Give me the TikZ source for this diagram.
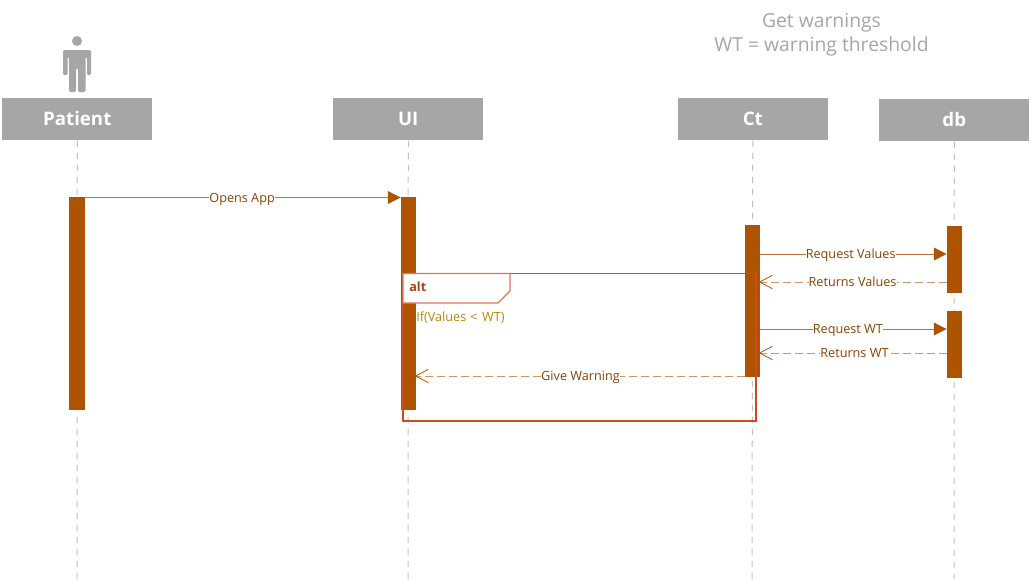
\documentclass[tikz,border=0pt]{standalone}
\usepackage{fontspec}
\setmainfont{Open Sans}
\usetikzlibrary{arrows.meta,calc}
\definecolor{hdr}{HTML}{A6A6A6}
\definecolor{bar}{HTML}{AE5300}
\definecolor{lbl}{HTML}{8A4200}
\definecolor{frm}{HTML}{D04A20}
\definecolor{cond}{HTML}{B8860B}
\tikzset{
  x=0.75pt,y=-0.75pt,
  header/.style={fill=hdr,text=white,font=\fontsize{14pt}{16pt}\selectfont\bfseries,minimum width=112.5pt,minimum height=31.5pt,inner sep=0pt,anchor=north west,text height=11pt,text depth=1.6pt},
  lifeline/.style={draw=hdr!70,dashed,line width=0.75pt,dash pattern=on 5pt off 4pt},
  activation/.style={fill=bar,minimum width=11.5pt,inner sep=0pt,anchor=north},
  msgline/.style={draw=bar!80,line width=0.75pt,-{Triangle[length=9.5pt,width=9.5pt,fill=bar,color=bar]}},
  retline/.style={draw=bar!60,line width=0.75pt,dash pattern=on 5.5pt off 3.5pt,shorten >=-1.2pt,-{Straight Barb[length=9.5pt,width=10pt,color=bar,line width=0.6pt]}},
  msglabel/.style={fill=white,text=lbl,font=\fontsize{9.5pt}{11pt}\selectfont,inner xsep=0pt,inner ysep=0pt,text height=8.6pt,text depth=1.4pt},
  frameline/.style={draw=frm,line width=0.85pt},
  note/.style={text=hdr,font=\fontsize{14.5pt}{18pt}\selectfont,align=center}
}
\begin{document}
\begin{tikzpicture}
\useasboundingbox (0,0) rectangle (1031,579);
% headers
\node[header] (patient) at (2,98) {Patient};
\node[header] (ui) at (333,98) {UI};
\node[header] (ct) at (677.5,98) {Ct};
\node[header] (db) at (879,99) {db};
% lifeline ends
\coordinate (patientEnd) at (77,579);
\coordinate (uiEnd) at (408,579);
\coordinate (ctEnd) at (752,579);
\coordinate (dbEnd) at (954,579);
\draw[lifeline] (patient.south) -- (patientEnd);
\draw[lifeline] (ui.south) -- (uiEnd);
\draw[lifeline] (ct.south) -- (ctEnd);
\draw[lifeline] (db.south) -- (dbEnd);
% actor icon
\fill[hdr] (77,41) circle (5);
\fill[hdr,rounded corners=1pt] (63,75) -- (63,50) -- (91,50) -- (91,75) -- (87,75) -- (87,57) -- (85.5,57) -- (85.5,92) -- (78,92) -- (78,68) -- (76,68) -- (76,92) -- (69,92) -- (69,57) -- (67.5,57) -- (67.5,75) -- cycle;
% activations
\node[activation,minimum height=159.75pt] (aP) at (77,197) {};
\node[activation,minimum height=159.75pt] (aU) at (408.5,197) {};
\node[activation,minimum height=114pt] (aC) at (752.5,225) {};
\node[activation,minimum height=50.25pt] (aD1) at (954.5,226) {};
\node[activation,minimum height=50.25pt] (aD2) at (954.5,311) {};
% messages
\draw[msgline] (aP.north east) ++(0,0.5) coordinate (m1s) -- (aU.north west |- m1s) node[msglabel,pos=0.5,xshift=-0.5pt] {Opens App};
\draw[msgline] ($(aC.north east)+(0,29)$) coordinate (m2s) -- (aD1.west |- m2s) node[msglabel,pos=0.485] {Request Values};
\draw[retline] ($(aD1.north west)+(0,56)$) coordinate (m3s) -- (aC.east |- m3s) node[msglabel,pos=0.505] {Returns Values};
\draw[msgline] ($(aC.north east)+(0,104)$) coordinate (m4s) -- (aD2.west |- m4s) node[msglabel,pos=0.47] {Request WT};
\draw[retline] ($(aD2.north west)+(0,42)$) coordinate (m5s) -- (aC.east |- m5s) node[msglabel,pos=0.495] {Returns WT};
\draw[retline] ($(aC.north west)+(0,151)$) coordinate (m6s) -- (aU.east |- m6s) node[msglabel,pos=0.5] {Give Warning};
% alt frame
\draw[frameline] (403,273.5) rectangle (756,421);
\draw[frameline,draw=frm!75,fill=white] (403,273.5) -- (510,273.5) -- (510,291) -- (498,303) -- (403,303) -- cycle;
\node[anchor=west,inner sep=0pt,text=frm!85!black,font=\fontsize{9.5pt}{11pt}\selectfont\bfseries,text height=8.6pt,text depth=1.4pt] (altlabel) at (409,287) {alt};
\node[anchor=west,inner sep=0pt,text=cond,font=\fontsize{9.5pt}{11pt}\selectfont,text height=8.6pt,text depth=1.4pt] (guard) at (416,316.5) {If(Values\hspace{0.5pt} <\hspace{1pt} WT)};
% note
\node[note] (title) at (821.5,34.5) {Get warnings\\WT = warning threshold};
\end{tikzpicture}
\end{document}
